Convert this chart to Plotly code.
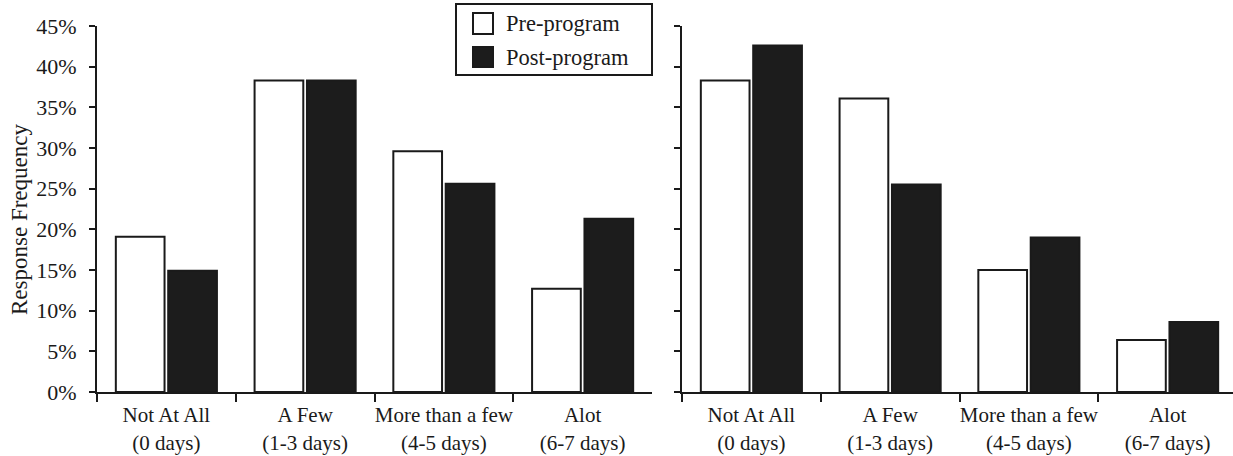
import plotly.graph_objects as go

# ---------------- data ----------------
categories = ["Not At All<br>(0 days)", "A Few<br>(1-3 days)",
              "More than a few<br>(4-5 days)", "Alot<br>(6-7 days)"]
series_names = ["Pre-program", "Post-program"]
left_pre = [19.1, 38.3, 29.6, 12.7]
left_post = [14.9, 38.3, 25.6, 21.3]
right_pre = [38.3, 36.1, 15.0, 6.4]
right_post = [42.6, 25.5, 19.0, 8.6]
y_tick_vals = [0, 5, 10, 15, 20, 25, 30, 35, 40, 45]
y_tick_text = ["0%", "5%", "10%", "15%", "20%", "25%", "30%", "35%", "40%", "45%"]
y_title = "Response Frequency"

# ---------------- style ----------------
W, H = 1233, 456
INK = "#1a1a1a"
DARK = "#1c1c1c"
FONT = "Liberation Serif, Times New Roman, serif"

def px_x(x):
    return x / W

def px_y(y):
    return 1 - y / H

fig = go.Figure()
colors = ["white", DARK]
for i, (name, vals) in enumerate(zip(series_names, [left_pre, left_post])):
    fig.add_trace(go.Bar(x=categories, y=vals, name=name, xaxis="x", yaxis="y",
                         marker=dict(color=colors[i], line=dict(color=INK, width=2)),
                         showlegend=False))
for i, (name, vals) in enumerate(zip(series_names, [right_pre, right_post])):
    fig.add_trace(go.Bar(x=categories, y=vals, name=name, xaxis="x2", yaxis="y2",
                         marker=dict(color=colors[i], line=dict(color=INK, width=2)),
                         showlegend=False))

ydom = [64 / H, 430 / H]
cat_px = (652 - 97) / 4.0
right_end = -0.5 + (W - 682) / cat_px

xcommon = dict(type="category", showline=True, linecolor=INK, linewidth=2,
               ticks="outside", tickson="boundaries", ticklen=8, tickwidth=2,
               tickcolor=INK, showgrid=False, zeroline=False, automargin=False,
               ticklabelstandoff=3, tickangle=0,
               tickfont=dict(family=FONT, size=21, color=INK))
ycommon = dict(range=[0, 45], showline=True, linecolor=INK, linewidth=2,
               ticks="outside", ticklen=6, tickwidth=2, tickcolor=INK,
               tickvals=y_tick_vals, ticktext=y_tick_text, automargin=False,
               showgrid=False, zeroline=False,
               tickfont=dict(family=FONT, size=22, color=INK))

fig.update_layout(
    width=W, height=H,
    margin=dict(l=0, r=0, t=0, b=0, pad=0),
    paper_bgcolor="white", plot_bgcolor="white",
    font=dict(family=FONT, color=INK),
    barmode="group", bargap=0.245, bargroupgap=0.07,
    showlegend=False,
    xaxis=dict(domain=[px_x(97), px_x(652)], range=[-0.5, 3.5], anchor="y", **xcommon),
    xaxis2=dict(domain=[px_x(682), 1.0], range=[-0.5, right_end], anchor="y2", **xcommon),
    yaxis=dict(domain=ydom, anchor="x", ticklabelstandoff=8, **ycommon),
    yaxis2=dict(domain=ydom, anchor="x2", showticklabels=False, **ycommon),
)

# y-axis title
fig.add_annotation(text=y_title, xref="paper", yref="paper", x=px_x(20), y=px_y(220),
                   xanchor="center", yanchor="middle", textangle=-90, showarrow=False,
                   font=dict(family=FONT, size=23, color=INK))

# manual legend (box, swatches, labels)
fig.add_shape(type="rect", xref="paper", yref="paper",
              x0=px_x(456), x1=px_x(652), y0=px_y(75), y1=px_y(4),
              line=dict(color=INK, width=2), fillcolor="white")
legend_rows = [(13, 34, "white"), (47, 67, DARK)]
for (y0, y1, c), name in zip(legend_rows, series_names):
    fig.add_shape(type="rect", xref="paper", yref="paper",
                  x0=px_x(473), x1=px_x(493), y0=px_y(y1), y1=px_y(y0),
                  line=dict(color=INK, width=2), fillcolor=c)
    fig.add_annotation(text=name, xref="paper", yref="paper", x=px_x(504),
                       y=px_y((y0 + y1) / 2), xanchor="left", yanchor="middle",
                       showarrow=False, font=dict(family=FONT, size=22.5, color=INK))

fig.write_html("out.html", config={"displayModeBar": False},
               post_script="document.body.style.margin='0';document.body.style.overflow='hidden';")
